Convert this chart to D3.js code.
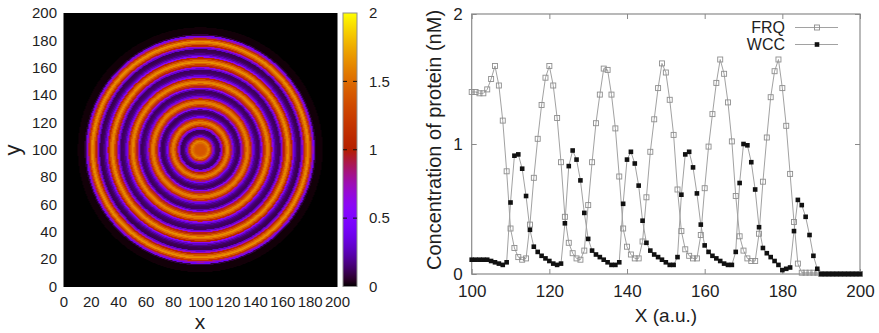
<!DOCTYPE html>
<html>
<head>
<meta charset="utf-8">
<script src="https://cdn.jsdelivr.net/npm/d3@7"></script>
<style>
  body { margin: 0; background: #fff; }
  text { font-family: "Liberation Sans", Arial, sans-serif; fill: #1e1e1e; }
</style>
</head>
<body>
<div id="chart"></div>
<script>
// cross-section positions (a.u.) from the centre of the disc outwards
const positions = d3.range(100, 201);

// FRQ concentration (nM) along the cross-section
const frq = [
  1.40, 1.40, 1.39, 1.39, 1.42, 1.50, 1.60, 1.45, 1.18, 0.79,
  0.35, 0.20, 0.13, 0.11, 0.12, 0.38, 0.74, 1.04, 1.30, 1.51,
  1.60, 1.45, 1.20, 0.86, 0.44, 0.24, 0.16, 0.12, 0.11, 0.18,
  0.53, 0.86, 1.16, 1.38, 1.58, 1.57, 1.38, 1.12, 0.75, 0.35,
  0.21, 0.15, 0.12, 0.12, 0.25, 0.59, 0.94, 1.19, 1.43, 1.62,
  1.55, 1.34, 1.07, 0.65, 0.33, 0.19, 0.14, 0.12, 0.12, 0.30,
  0.66, 0.98, 1.23, 1.47, 1.65, 1.54, 1.32, 1.02, 0.60, 0.29,
  0.18, 0.12, 0.10, 0.10, 0.31, 0.71, 1.05, 1.36, 1.56, 1.65,
  1.43, 1.14, 0.77, 0.40, 0.08, 0.01, 0.01, 0.01, 0.01, 0.01,
  0, 0, 0, 0, 0, 0, 0, 0, 0, 0, 0
];

// WCC concentration (nM) along the cross-section
const wcc = [
  0.11, 0.11, 0.11, 0.11, 0.11, 0.10, 0.09, 0.08, 0.07, 0.09,
  0.55, 0.91, 0.92, 0.81, 0.60, 0.34, 0.21, 0.17, 0.14, 0.12,
  0.10, 0.08, 0.07, 0.08, 0.39, 0.83, 0.95, 0.88, 0.72, 0.47,
  0.27, 0.18, 0.15, 0.13, 0.11, 0.09, 0.07, 0.07, 0.09, 0.54,
  0.88, 0.94, 0.85, 0.68, 0.41, 0.24, 0.18, 0.15, 0.13, 0.11,
  0.09, 0.07, 0.07, 0.13, 0.61, 0.92, 0.94, 0.82, 0.62, 0.38,
  0.22, 0.17, 0.14, 0.12, 0.10, 0.08, 0.07, 0.07, 0.17, 0.70,
  1.00, 0.99, 0.86, 0.65, 0.36, 0.20, 0.16, 0.13, 0.10, 0.07,
  0.03, 0.04, 0.05, 0.33, 0.57, 0.53, 0.44, 0.30, 0.14, 0.04,
  0, 0, 0, 0, 0, 0, 0, 0, 0, 0, 0
];

// tick labels
const mapTicks = [0, 20, 40, 60, 80, 100, 120, 140, 160, 180, 200];
const barTicks = [0, 0.5, 1, 1.5, 2];
const profXTicks = [100, 120, 140, 160, 180, 200];
const profYTicks = [0, 1, 2];
const seriesNames = ["FRQ", "WCC"];

var svg = d3
  .select("#chart")
  .append("svg")
  .attr("width", 879)
  .attr("height", 333);

// gnuplot default palette (rgbformulae 7,5,15)
function gnuplotPalette(t) {
  t = Math.max(0, Math.min(1, t));
  var r = Math.sqrt(t),
    g = t * t * t,
    b = Math.max(0, Math.sin(2 * Math.PI * t));
  return d3.rgb(r * 255, g * 255, b * 255).toString();
}
var color = d3.scaleSequential(gnuplotPalette).domain([0, 2]);

// ---------- left: 2D map ----------
var xMap = d3.scaleLinear().domain([0, 200]).range([63.5, 337]);
var yMap = d3.scaleLinear().domain([0, 200]).range([286.5, 13]);

var w = Math.round(xMap(200) - xMap(0)),
  h = Math.round(yMap(0) - yMap(200));
var canvas = document.createElement("canvas");
canvas.width = w;
canvas.height = h;
var ctx = canvas.getContext("2d");
var img = ctx.createImageData(w, h);
for (var py = 0; py < h; py++) {
  for (var px = 0; px < w; px++) {
    var gx = xMap.invert(xMap(0) + px + 0.5),
      gy = yMap.invert(yMap(200) + py + 0.5);
    // radial distance from the disc centre picks the cross-section sample
    var k = Math.round(Math.hypot(gx - positions[0], gy - positions[0]));
    var v = k < frq.length ? frq[k] : 0;
    var c = d3.rgb(color(v));
    var o = (py * w + px) * 4;
    img.data[o] = c.r;
    img.data[o + 1] = c.g;
    img.data[o + 2] = c.b;
    img.data[o + 3] = 255;
  }
}
ctx.putImageData(img, 0, 0);

svg
  .append("image")
  .attr("x", xMap(0))
  .attr("y", yMap(200))
  .attr("width", w)
  .attr("height", h)
  .attr("preserveAspectRatio", "none")
  .attr("href", canvas.toDataURL());

// map axes (labels only)
var gMapX = svg
  .append("g")
  .attr("transform", "translate(0," + yMap(0) + ")")
  .call(d3.axisBottom(xMap).tickValues(mapTicks).tickSize(0).tickPadding(9.5));
var gMapY = svg
  .append("g")
  .attr("transform", "translate(" + xMap(0) + ",0)")
  .call(d3.axisLeft(yMap).tickValues(mapTicks).tickSize(0).tickPadding(6.5));
[gMapX, gMapY].forEach(function (g) {
  g.select(".domain").remove();
  g.attr("font-size", 15).attr("font-family", null);
  g.selectAll("text").attr("fill", "#1e1e1e");
});

svg
  .append("text")
  .attr("x", 200)
  .attr("y", 329)
  .attr("text-anchor", "middle")
  .style("font-size", "21px")
  .text("x");
svg
  .append("text")
  .attr("transform", "translate(20,150) rotate(-90)")
  .attr("text-anchor", "middle")
  .style("font-size", "22px")
  .text("y");

// colour bar
var yBar = d3.scaleLinear().domain([0, 2]).range([286.5, 13]);
var grad = svg
  .append("defs")
  .append("linearGradient")
  .attr("id", "cbar")
  .attr("x1", 0)
  .attr("y1", 1)
  .attr("x2", 0)
  .attr("y2", 0);
grad
  .selectAll("stop")
  .data(d3.range(0, 1.001, 0.02))
  .enter()
  .append("stop")
  .attr("offset", (d) => d)
  .attr("stop-color", (d) => color(d * 2));

svg
  .append("rect")
  .attr("x", 343)
  .attr("y", yBar(2))
  .attr("width", 14)
  .attr("height", yBar(0) - yBar(2))
  .attr("fill", "url(#cbar)")
  .attr("stroke", "#8c8c8c")
  .attr("stroke-width", 1);

svg
  .selectAll(".cbtick")
  .data(barTicks.slice(1, -1))
  .enter()
  .append("path")
  .attr("d", (d) => "M343," + yBar(d) + "h4M353," + yBar(d) + "h4")
  .attr("stroke", "#111")
  .attr("stroke-width", 1);

svg
  .selectAll(".cblabel")
  .data(barTicks)
  .enter()
  .append("text")
  .attr("x", 369)
  .attr("y", (d) => yBar(d))
  .attr("dy", "0.35em")
  .style("font-size", "15px")
  .text((d) => d);

// ---------- right: cross-section profile ----------
var x = d3.scaleLinear().domain([100, 200]).range([471.7, 860]);
var y = d3.scaleLinear().domain([0, 2]).range([274, 14]);
var frameColor = "#8a8a8a";

var axes = [
  svg
    .append("g")
    .attr("transform", "translate(0," + y(0) + ")")
    .call(d3.axisBottom(x).tickValues(profXTicks).tickSizeInner(-5).tickSizeOuter(0).tickPadding(11)),
  svg
    .append("g")
    .attr("transform", "translate(0," + y(2) + ")")
    .call(d3.axisTop(x).tickValues(profXTicks).tickSizeInner(-5).tickSizeOuter(0).tickFormat("")),
  svg
    .append("g")
    .attr("transform", "translate(" + x(100) + ",0)")
    .call(
      d3.axisLeft(y).tickValues(profYTicks).tickSizeInner(-5).tickSizeOuter(0).tickPadding(9)
        .tickFormat((d) => d)
    ),
  svg
    .append("g")
    .attr("transform", "translate(" + x(200) + ",0)")
    .call(d3.axisRight(y).tickValues(profYTicks).tickSizeInner(-5).tickSizeOuter(0).tickFormat(""))
];
axes.forEach(function (g) {
  g.select(".domain").remove();
  g.attr("font-size", 17).attr("font-family", null);
  g.selectAll("line").attr("stroke", frameColor);
  g.selectAll("text").attr("fill", "#1e1e1e");
});

svg
  .append("rect")
  .attr("x", x(100))
  .attr("y", y(2))
  .attr("width", x(200) - x(100))
  .attr("height", y(0) - y(2))
  .attr("fill", "none")
  .attr("stroke", frameColor)
  .attr("stroke-width", 1.2);

// lines
var line = d3
  .line()
  .x((d, i) => x(positions[i]))
  .y((d) => y(d));

[frq, wcc].forEach(function (s) {
  svg
    .append("path")
    .datum(s)
    .attr("d", line)
    .attr("fill", "none")
    .attr("stroke", "#a2a2a2")
    .attr("stroke-width", 1);
});

// markers
svg
  .selectAll(".frq")
  .data(frq)
  .enter()
  .append("rect")
  .attr("x", (d, i) => x(positions[i]) - 2.5)
  .attr("y", (d) => y(d) - 2.5)
  .attr("width", 5)
  .attr("height", 5)
  .attr("fill", "none")
  .attr("stroke", "#8e8e8e")
  .attr("stroke-width", 0.9);

svg
  .selectAll(".wcc")
  .data(wcc)
  .enter()
  .append("rect")
  .attr("x", (d, i) => x(positions[i]) - 2.3)
  .attr("y", (d) => y(d) - 2.3)
  .attr("width", 4.6)
  .attr("height", 4.6)
  .attr("fill", "#111");

// axis labels
svg
  .append("text")
  .attr("x", 666)
  .attr("y", 322)
  .attr("text-anchor", "middle")
  .style("font-size", "19px")
  .text("X (a.u.)");
svg
  .append("text")
  .attr("transform", "translate(441,140) rotate(-90)")
  .attr("text-anchor", "middle")
  .style("font-size", "20px")
  .text("Concentration of protein (nM)");

// legend
seriesNames.forEach(function (name, i) {
  var ly = 27.5 + i * 17;
  svg
    .append("text")
    .attr("x", 785)
    .attr("y", ly)
    .attr("dy", "0.35em")
    .attr("text-anchor", "end")
    .style("font-size", "16px")
    .text(name);
  svg
    .append("line")
    .attr("x1", 795)
    .attr("x2", 838)
    .attr("y1", ly)
    .attr("y2", ly)
    .attr("stroke", "#a2a2a2");
  if (i === 0) {
    svg
      .append("rect")
      .attr("x", 814.5)
      .attr("y", ly - 2.5)
      .attr("width", 5)
      .attr("height", 5)
      .attr("fill", "none")
      .attr("stroke", "#8e8e8e")
      .attr("stroke-width", 0.9);
  } else {
    svg
      .append("rect")
      .attr("x", 814.7)
      .attr("y", ly - 2.3)
      .attr("width", 4.6)
      .attr("height", 4.6)
      .attr("fill", "#111");
  }
});
</script>
</body>
</html>
